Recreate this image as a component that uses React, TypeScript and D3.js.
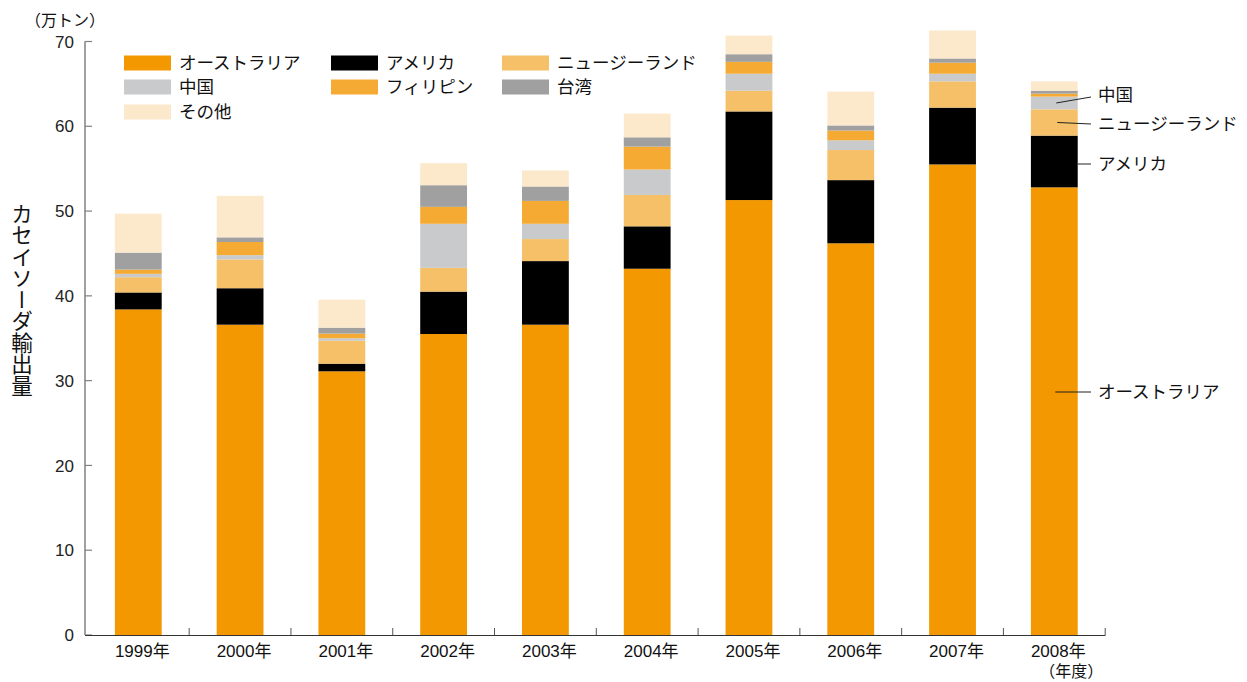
import React from "react";
import * as d3 from "d3";

const years = ["1999年", "2000年", "2001年", "2002年", "2003年", "2004年", "2005年", "2006年", "2007年", "2008年"];
const seriesNames = ["オーストラリア", "アメリカ", "ニュージーランド", "中国", "フィリピン", "台湾", "その他"];
const australia = [38.4, 36.6, 31.1, 35.5, 36.6, 43.2, 51.3, 46.2, 55.5, 52.8];
const usa = [2.0, 4.3, 0.9, 5.0, 7.5, 5.0, 10.45, 7.45, 6.7, 6.1];
const newZealand = [1.8, 3.4, 2.7, 2.8, 2.6, 3.7, 2.45, 3.55, 3.1, 3.1];
const china = [0.4, 0.5, 0.3, 5.2, 1.8, 3.0, 2.0, 1.15, 0.9, 1.5];
const philippines = [0.5, 1.55, 0.55, 2.0, 2.7, 2.7, 1.4, 1.15, 1.3, 0.35];
const taiwan = [2.0, 0.55, 0.7, 2.55, 1.7, 1.1, 0.9, 0.6, 0.5, 0.35];
const others = [4.6, 4.9, 3.3, 2.6, 1.9, 2.8, 2.2, 4.0, 3.3, 1.1];
const yTicks = [0, 10, 20, 30, 40, 50, 60, 70];
const colors = ["#F39800", "#000000", "#F6C068", "#C9CACB", "#F5AA33", "#A0A0A0", "#FCE9CC"];

const W = 1247;
const H = 682;
const jp = "'Noto Sans CJK JP', 'Noto Sans', sans-serif";
const num = "'Liberation Sans', Arial, sans-serif";

export default function App() {
  const x = d3.scaleBand<string>().domain(years).range([87.4, 1105.2]).padding(0);
  const y = d3.scaleLinear().domain([0, 70]).range([635, 41.5]);
  const barW = x.bandwidth() * 0.46;

  const table = years.map((yr, i) => {
    const row: any = { year: yr };
    const vals = [australia, usa, newZealand, china, philippines, taiwan, others];
    seriesNames.forEach((s, k) => (row[s] = vals[k][i]));
    return row;
  });
  const stack = d3.stack<any>().keys(seriesNames)(table);

  const legendCols = [124, 331, 502];
  const legendRows = [63, 87, 112];
  const legendOrder = [
    [0, 0, 0],
    [1, 1, 0],
    [2, 2, 0],
    [3, 0, 1],
    [4, 1, 1],
    [5, 2, 1],
    [6, 0, 2],
  ];

  const last = years.length - 1;
  const lastX = (x(years[last]) as number) + x.bandwidth() / 2;
  const stackLast = (k: number) => stack[k][last];
  const midOf = (k: number) => y((stackLast(k)[0] + stackLast(k)[1]) / 2);

  return (
    <svg width={W} height={H} style={{ position: "absolute", left: 0, top: 0, background: "#fff" }}>
      {/* bars */}
      {stack.map((s, k) => (
        <g key={k} fill={colors[k]}>
          {s.map((d, i) => (
            <rect
              key={i}
              x={(x(years[i]) as number) + x.bandwidth() / 2 - barW / 2}
              y={y(d[1])}
              width={barW}
              height={Math.max(0, y(d[0]) - y(d[1]))}
            />
          ))}
        </g>
      ))}

      {/* y axis */}
      <line x1={85} x2={85} y1={y(70)} y2={y(0)} stroke="#808080" strokeWidth={1.5} />
      {yTicks.map((t) => (
        <g key={t}>
          <line x1={85} x2={92} y1={y(t)} y2={y(t)} stroke="#808080" strokeWidth={1.2} />
          <text x={74} y={y(t)} dy="0.36em" textAnchor="end" fontFamily={num} fontSize={17} fill="#222">
            {t}
          </text>
        </g>
      ))}

      {/* x axis */}
      <line x1={85} x2={1105.5} y1={y(0) + 0.5} y2={y(0) + 0.5} stroke="#333" strokeWidth={1.2} />
      {years.map((yr) => (
        <line
          key={yr}
          x1={(x(yr) as number) + x.bandwidth()}
          x2={(x(yr) as number) + x.bandwidth()}
          y1={y(0)}
          y2={y(0) - 7}
          stroke="#555"
          strokeWidth={1}
        />
      ))}
      {years.map((yr) => (
        <text
          key={yr}
          x={(x(yr) as number) + x.bandwidth() / 2 + 4}
          y={657}
          textAnchor="middle"
          fontFamily={num}
          fontSize={17}
          fill="#111"
        >
          {yr.replace("年", "")}
          <tspan fontFamily={jp} fontSize={17}>年</tspan>
        </text>
      ))}
      <text x={lastX + 17} y={677} textAnchor="middle" fontFamily={jp} fontSize={16} fill="#111">
        （年度）
      </text>

      {/* unit */}
      <text x={25} y={26} fontFamily={jp} fontSize={16} fill="#111">
        （万トン）
      </text>

      {/* y title */}
      <text
        x={22}
        y={203}
        fontFamily={jp}
        fontSize={21.5}
        fill="#111"
        style={{ writingMode: "vertical-rl" as any }}
      >
        カセイソーダ輸出量
      </text>

      {/* legend */}
      {legendOrder.map(([k, c, r]) => (
        <g key={k}>
          <rect x={legendCols[c]} y={legendRows[r] - 7.5} width={47} height={15} fill={colors[k]} />
          <text
            x={legendCols[c] + 55}
            y={legendRows[r]}
            dy="0.36em"
            fontFamily={jp}
            fontSize={17.5}
            fill="#111"
          >
            {seriesNames[k]}
          </text>
        </g>
      ))}

      {/* right annotations */}
      {[
        { k: 3, ty: 95, x1: lastX + 2, sy: midOf(3) },
        { k: 2, ty: 124, x1: lastX + 3, sy: midOf(2) },
        { k: 1, ty: 164, x1: lastX + barW / 2, sy: 164 },
        { k: 0, ty: 392, x1: lastX + 1, sy: 392 },
      ].map((a) => (
        <g key={a.k}>
          <line x1={a.x1} x2={1091} y1={a.sy} y2={a.ty + (a.k === 3 ? 2 : 0)} stroke="#222" strokeWidth={1} />
          <text x={1098} y={a.ty} dy="0.36em" fontFamily={jp} fontSize={17.5} fill="#111">
            {seriesNames[a.k]}
          </text>
        </g>
      ))}
    </svg>
  );
}
